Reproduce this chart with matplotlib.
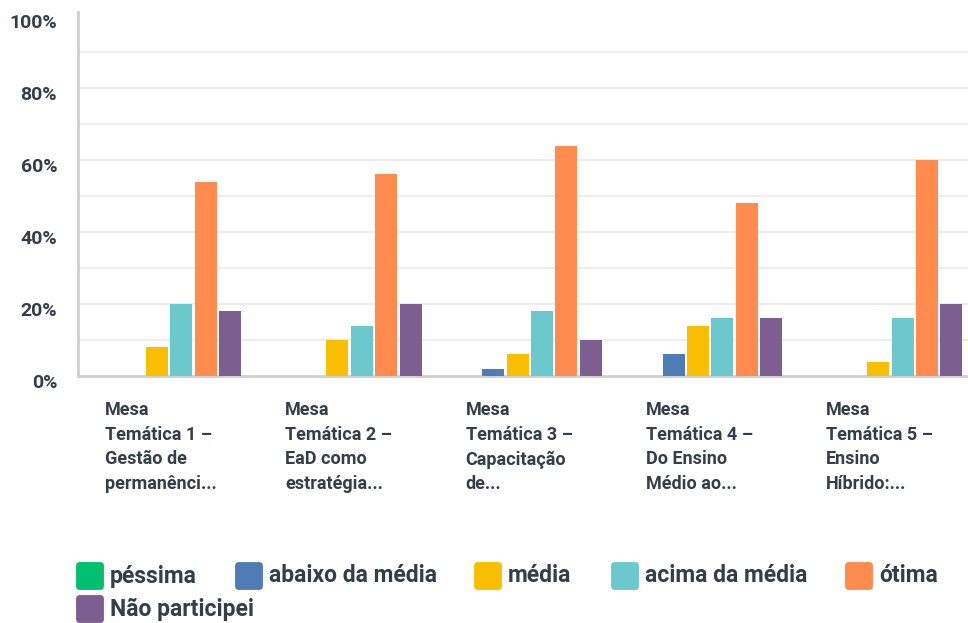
import matplotlib.pyplot as plt
import numpy as np
from matplotlib.patches import FancyBboxPatch
import matplotlib.transforms as mtransforms

# ----------------------------------------------------------------------
# data
# ----------------------------------------------------------------------
groups = [
    "Mesa\nTemática 1 –\nGestão de\npermanênci...",
    "Mesa\nTemática 2 –\nEaD como\nestratégia...",
    "Mesa\nTemática 3 –\nCapacitação\nde...",
    "Mesa\nTemática 4 –\nDo Ensino\nMédio ao...",
    "Mesa\nTemática 5 –\nEnsino\nHíbrido:...",
]
series = ["péssima", "abaixo da média", "média", "acima da média", "ótima", "Não participei"]
pessima = [0, 0, 0, 0, 0]
abaixo = [0, 0, 2, 6, 0]
media = [8, 10, 6, 14, 4]
acima = [20, 14, 18, 16, 16]
otima = [54, 56, 64, 48, 60]
nao_participei = [18, 20, 10, 16, 20]
values = [pessima, abaixo, media, acima, otima, nao_participei]
yticks = [0, 20, 40, 60, 80, 100]

colors = ["#00BF6F", "#507CB6", "#F9BE00", "#6BC8CD", "#FF8B4F", "#7D5E90"]
TEXT = "#333E48"
FONT = "Roboto"

W, H = 968, 623
fig = plt.figure(figsize=(W / 100, H / 100), dpi=100)

# axes in pixel terms: left 78, bottom 376, group spacing ~180 px
ax_left, ax_bottom, ax_top = 78, 376, 12
gw = 180.3
ax = fig.add_axes([ax_left / W, (H - ax_bottom) / H,
                   gw * 5 / W, (ax_bottom - ax_top) / H])

x = np.arange(len(groups))
bar_w = 22 / gw
step = 24.4 / gw
for i, (vals, c) in enumerate(zip(values, colors)):
    offs = (i - 2.5) * step + 0.006
    ax.bar(x + offs, vals, width=bar_w, color=c, zorder=3)

ax.set_xlim(-0.5, len(groups) - 0.5)
ax.set_ylim(0, 101.1)

# light gridlines every 10 %
for g in np.arange(10, 100, 10):
    ax.axhline(g, color="#EDEDED", lw=1.6, zorder=1)

for side in ["top", "right"]:
    ax.spines[side].set_visible(False)
for side in ["left", "bottom"]:
    ax.spines[side].set_color("#CFCFCF")
    ax.spines[side].set_linewidth(2)

ax.set_xticks([])
ax.set_yticks(yticks)
ax.set_yticklabels([f"{t}%" for t in yticks], fontsize=14, fontweight="bold",
                   color=TEXT, family=FONT)
ax.tick_params(axis="y", length=0, pad=15)
shift = mtransforms.ScaledTranslation(0, -5 / 100, fig.dpi_scale_trans)
for lab in ax.get_yticklabels():
    lab.set_transform(lab.get_transform() + shift)

# category labels below the bars, left aligned
trans = ax.get_xaxis_transform()
for xi, lab in zip(x, groups):
    ax.text(xi - 0.35, -25 / 364, lab, transform=trans, ha="left", va="top",
            fontsize=13, fontweight="bold", color=TEXT, family=FONT,
            linespacing=1.48)

# legend drawn by hand, positions in pixels
leg_pos = [(76, 576), (235, 576), (474, 576), (611, 576), (845, 576), (76, 609)]
box = 28
for (px, py), name, c in zip(leg_pos, series, colors):
    patch = FancyBboxPatch(((px + 2) / W, (H - py - box / 2 + 2) / H),
                           (box - 4) / W, (box - 4) / H,
                           boxstyle="round,pad=0.002,rounding_size=0.004",
                           transform=fig.transFigure, facecolor=c,
                           edgecolor="none", mutation_aspect=W / H)
    fig.patches.append(patch)
    fig.text((px + box + 6) / W, (H - py) / H, name, ha="left", va="center",
             fontsize=16.5, fontweight="bold", color=TEXT, family=FONT)

fig.savefig("out.png", dpi=100)
